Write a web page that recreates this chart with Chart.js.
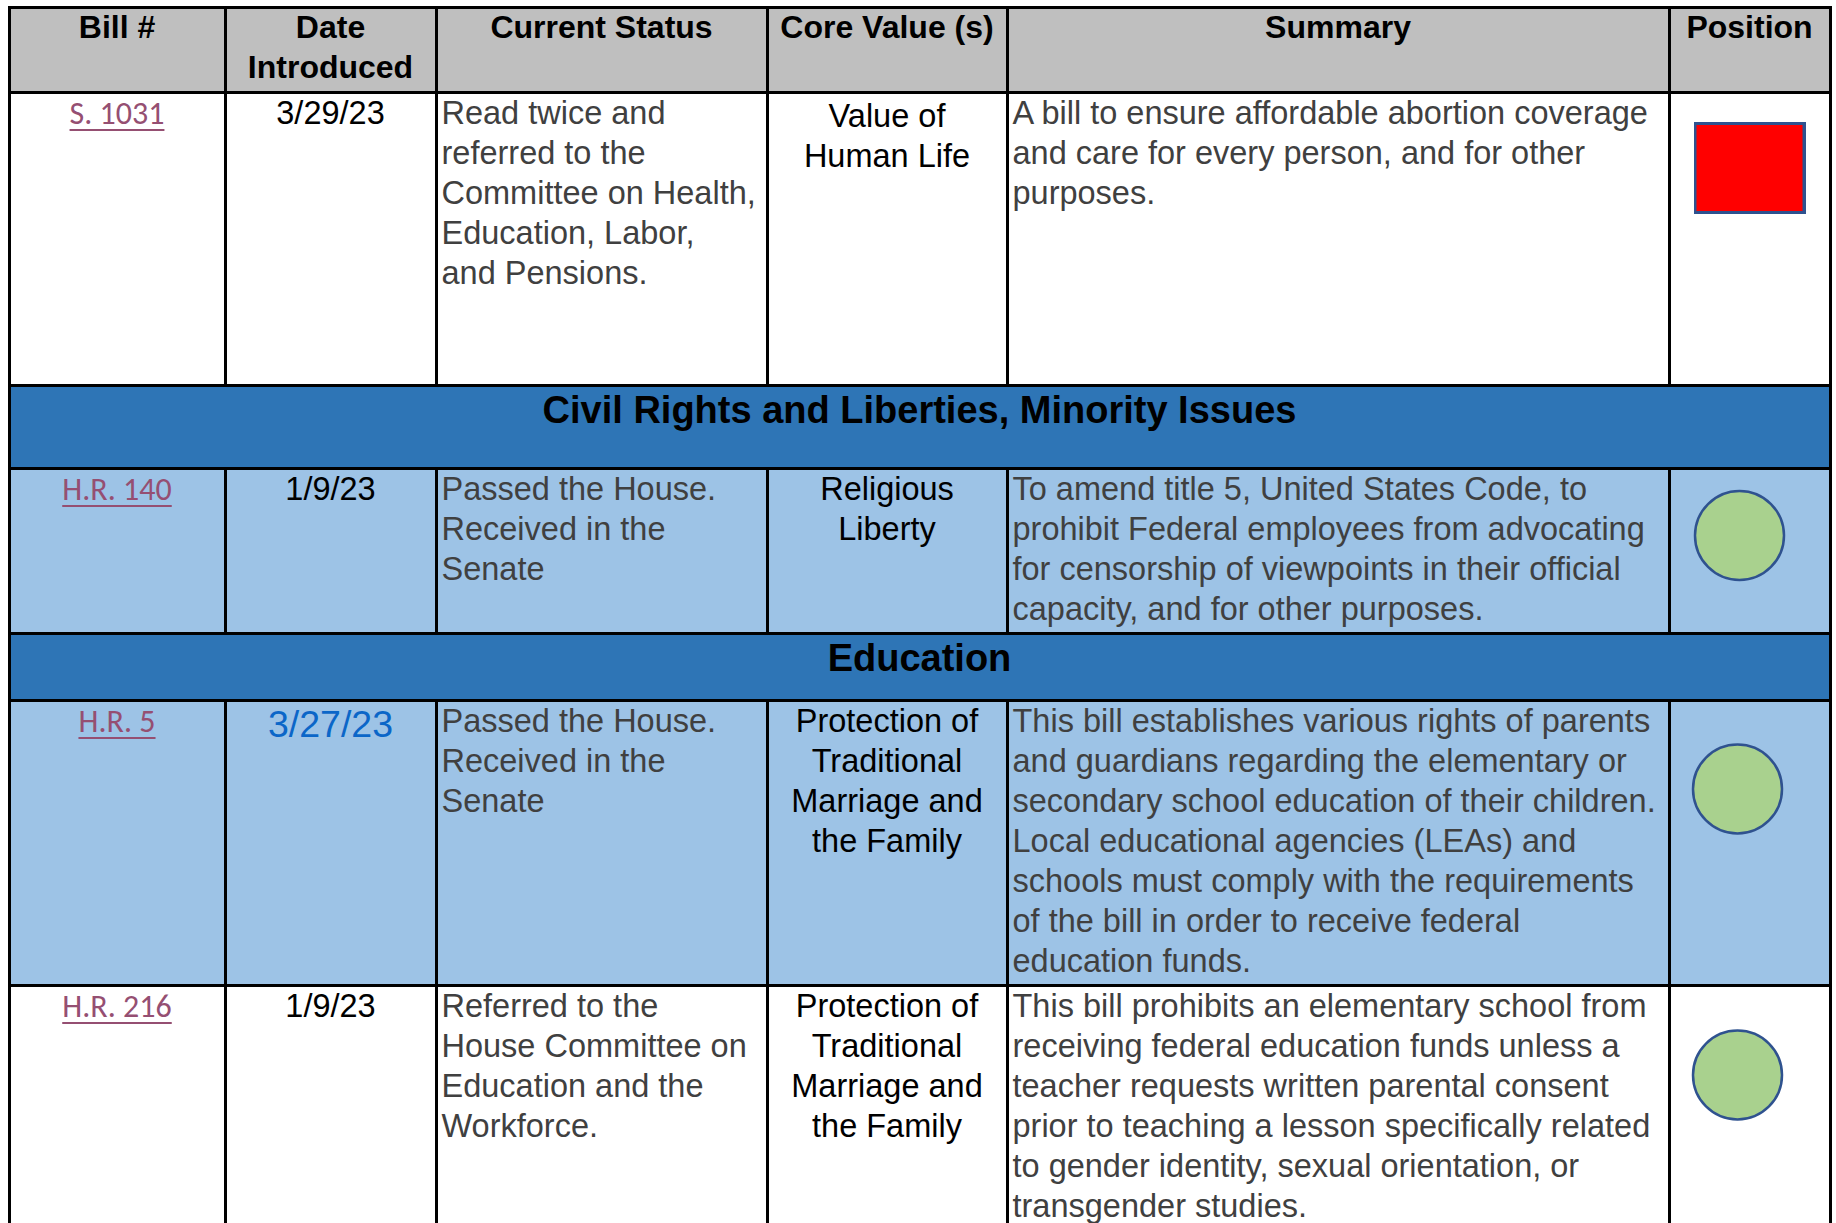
<!DOCTYPE html>
<html>
<head>
<meta charset="utf-8">
<script src="https://cdn.jsdelivr.net/npm/chart.js@4.4.1/dist/chart.umd.min.js"></script>
<style>
html, body { margin: 0; padding: 0; background: #fff; width: 1836px; height: 1223px; overflow: hidden; }
#sheet { position: relative; width: 1836px; height: 1223px; font-family: "Liberation Sans", Arial, sans-serif; }
.cell { position: absolute; box-sizing: border-box; border: 3px solid #000; padding: 0 4px;
        white-space: nowrap; overflow: hidden; font-size: 32.5px; line-height: 40px; color: #404040; }
.body { padding-top: 0; margin-top: -1px; }
.head { background: #bfbfbf; color: #000; font-weight: bold; font-size: 32px; text-align: center; }
.head span { position: relative; top: -2px; }
.band { background: #2e75b6; color: #000; font-weight: bold; font-size: 38px; line-height: 46px; text-align: center; }
.center { text-align: center; color: #000; }
.bill a { font-family: Carlito, Lato, "Open Sans", sans-serif; font-size: 32px; color: #954f72;
          text-decoration: underline; text-decoration-thickness: 2px; text-underline-offset: 5px; }
.bigdate { font-size: 37.5px; line-height: 46px; color: #0b66c8; }
#overlay { position: absolute; left: 0; top: 0; pointer-events: none; }
</style>
</head>
<body>
<div id="sheet"><canvas id="overlay" width="1836" height="1223"></canvas></div>
<script>
// table content
const headers = [['Bill #'], ['Date', 'Introduced'], ['Current Status'], ['Core Value (s)'], ['Summary'], ['Position']];
const bills = ['S. 1031', 'H.R. 140', 'H.R. 5', 'H.R. 216'];
const dates = ['3/29/23', '1/9/23', '3/27/23', '1/9/23'];
const statuses = [
    ['Read twice and', 'referred to the', 'Committee on Health,', 'Education, Labor,', 'and Pensions.'],
    ['Passed the House.', 'Received in the', 'Senate'],
    ['Passed the House.', 'Received in the', 'Senate'],
    ['Referred to the', 'House Committee on', 'Education and the', 'Workforce.']
];
const coreValues = [
    ['Value of', 'Human Life'],
    ['Religious', 'Liberty'],
    ['Protection of', 'Traditional', 'Marriage and', 'the Family'],
    ['Protection of', 'Traditional', 'Marriage and', 'the Family']
];
const summaries = [
    ['A bill to ensure affordable abortion coverage', 'and care for every person, and for other', 'purposes.'],
    ['To amend title 5, United States Code, to', 'prohibit Federal employees from advocating', 'for censorship of viewpoints in their official', 'capacity, and for other purposes.'],
    ['This bill establishes various rights of parents', 'and guardians regarding the elementary or', 'secondary school education of their children.', 'Local educational agencies (LEAs) and', 'schools must comply with the requirements', 'of the bill in order to receive federal', 'education funds.'],
    ['This bill prohibits an elementary school from', 'receiving federal education funds unless a', 'teacher requests written parental consent', 'prior to teaching a lesson specifically related', 'to gender identity, sexual orientation, or', 'transgender studies.']
];
const positions = ['Oppose', 'Support', 'Support', 'Support'];
// section band shown above a row (null = none)
const sections = [null, 'Civil Rights and Liberties, Minority Issues', 'Education', null];

// layout
const colEdges = [9, 225, 436, 767, 1007, 1669, 1830];
const headerEdges = [7, 92.5];
const rowHeights = [292.5, 165.5, 285, 300];
const bandHeights = [0, 83, 66.5, 0];
const rowShades = ['#ffffff', '#9dc3e6', '#9dc3e6', '#ffffff'];
const emphasizedDateRow = 2;
const corePadTop = [3, 0, 0, 0];
const markerDx = [0, -10, -12, -12];
const markerDy = [75.5, 67.5, 89, 90];

const sheet = document.getElementById('sheet');

function addCell(x0, x1, y0, y1, cls, lines, bg) {
    const d = document.createElement('div');
    d.className = 'cell ' + cls;
    d.style.left = (x0 - 1.5) + 'px';
    d.style.top = (y0 - 1.5) + 'px';
    d.style.width = (x1 - x0 + 3) + 'px';
    d.style.height = (y1 - y0 + 3) + 'px';
    if (bg) d.style.background = bg;
    d.innerHTML = '<span>' + lines.join('<br>') + '</span>';
    if (cls.indexOf('head') < 0 && cls.indexOf('band') < 0) d.firstChild.style.cssText = 'position:relative;top:-1px';
    sheet.insertBefore(d, sheet.firstChild);
    return d;
}

headers.forEach((h, c) => addCell(colEdges[c], colEdges[c + 1], headerEdges[0], headerEdges[1], 'head', h));

let y = headerEdges[1];
const rowTops = [];
bills.forEach((bill, i) => {
    if (sections[i]) {
        addCell(colEdges[0], colEdges[6], y, y + bandHeights[i], 'band', [sections[i]]);
        y += bandHeights[i];
    }
    const y1 = y + rowHeights[i];
    const bg = rowShades[i];
    rowTops.push(y);
    addCell(colEdges[0], colEdges[1], y, y1, 'center bill', ['<a href="#">' + bill + '</a>'], bg);
    const dc = addCell(colEdges[1], colEdges[2], y, y1, 'center', [dates[i]], bg);
    if (i === emphasizedDateRow) dc.classList.add('bigdate');
    addCell(colEdges[2], colEdges[3], y, y1, '', statuses[i], bg);
    const cc = addCell(colEdges[3], colEdges[4], y, y1, 'center', coreValues[i], bg);
    cc.style.paddingTop = corePadTop[i] + 'px';
    addCell(colEdges[4], colEdges[5], y, y1, '', summaries[i], bg);
    addCell(colEdges[5], colEdges[6], y, y1, '', [], bg);
    y = y1;
});

// position markers drawn by Chart.js over the Position column
const opposeMark = document.createElement('canvas');
opposeMark.width = 112;
opposeMark.height = 92;
const mctx = opposeMark.getContext('2d');
mctx.fillStyle = '#ff0000';
mctx.fillRect(0, 0, 112, 92);
mctx.strokeStyle = '#2f528f';
mctx.lineWidth = 3;
mctx.strokeRect(1.5, 1.5, 109, 89);

const posCenter = (colEdges[5] + colEdges[6]) / 2;
const markerPoints = positions.map((p, i) => ({ x: posCenter + markerDx[i], y: rowTops[i] + markerDy[i] }));

new Chart(document.getElementById('overlay'), {
    type: 'scatter',
    data: {
        datasets: [{
            label: 'Position',
            data: markerPoints,
            pointStyle: positions.map(p => p === 'Oppose' ? opposeMark : 'circle'),
            pointRadius: 44.5,
            backgroundColor: positions.map(p => p === 'Oppose' ? '#ff0000' : '#a9d18e'),
            borderColor: '#2f528f',
            borderWidth: 2.5,
            clip: false
        }]
    },
    options: {
        responsive: false,
        animation: false,
        events: [],
        layout: { padding: 0, autoPadding: false },
        scales: {
            x: { type: 'linear', min: 0, max: 1836, display: false },
            y: { type: 'linear', min: 0, max: 1223, reverse: true, display: false }
        },
        plugins: {
            legend: { display: false },
            tooltip: { enabled: false }
        }
    }
});
</script>
</body>
</html>
